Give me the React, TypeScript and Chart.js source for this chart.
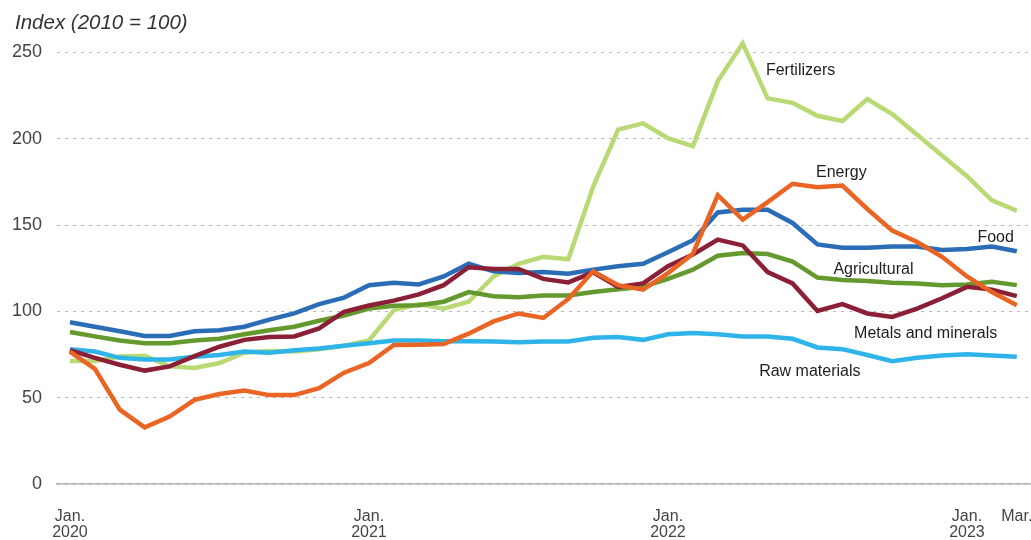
import React, { useEffect, useRef } from "react";
import { Chart, registerables } from "chart.js";

Chart.register(...registerables);

// Monthly, Jan 2020 .. Mar 2023 (39 months)
const monthIndex: number[] = Array.from({ length: 39 }, (_, i) => i);

const food = [93.7, 91.1, 88.5, 85.7, 85.7, 88.5, 89.1, 91.1, 95.2, 98.8, 104.2, 108.0, 115.2, 116.6, 115.6, 120.2, 127.6, 123.2, 122.2, 122.8, 121.8, 124.2, 126.2, 127.6, 134.2, 141.2, 157.3, 158.9, 158.9, 151.2, 138.8, 136.8, 136.8, 137.6, 137.6, 135.6, 136.2, 137.6, 134.8];
const agricultural = [88.1, 85.5, 83.1, 81.5, 81.5, 83.1, 84.1, 86.7, 89.1, 91.1, 94.6, 97.6, 101.6, 103.2, 103.6, 105.6, 111.2, 108.8, 108.2, 109.2, 109.2, 111.2, 112.8, 114.2, 118.8, 124.2, 132.2, 133.8, 133.2, 128.8, 119.6, 118.2, 117.6, 116.6, 116.2, 115.2, 115.6, 117.2, 115.2];
const metals = [77.5, 73.1, 69.1, 65.7, 68.1, 74.1, 79.5, 83.5, 85.1, 85.5, 90.1, 99.8, 103.4, 106.2, 109.8, 115.2, 125.6, 124.6, 124.6, 118.8, 116.8, 122.6, 114.2, 116.2, 126.2, 133.0, 141.6, 138.2, 122.8, 116.2, 100.2, 104.2, 98.8, 96.8, 101.6, 107.6, 114.2, 112.6, 108.8];
const rawMaterials = [78.1, 76.7, 73.1, 72.1, 72.1, 73.7, 74.7, 76.7, 76.1, 77.5, 78.5, 80.1, 81.5, 83.1, 83.1, 82.7, 82.7, 82.5, 82.1, 82.5, 82.5, 84.7, 85.1, 83.5, 86.7, 87.5, 86.7, 85.5, 85.5, 84.1, 79.1, 78.1, 74.7, 71.1, 73.1, 74.5, 75.1, 74.5, 73.7];
const fertilizers = [71.2, 71.2, 73.8, 74.3, 68.2, 67.2, 70.1, 76.1, 77.1, 76.7, 78.1, 80.1, 83.1, 100.7, 104.2, 101.6, 105.6, 120.2, 127.6, 131.6, 130.2, 172.3, 205.3, 208.9, 200.3, 195.7, 233.4, 255.3, 223.4, 220.8, 213.3, 210.3, 223.0, 214.3, 202.3, 190.3, 178.3, 164.3, 158.3];
const energy = [76.7, 66.7, 43.1, 32.8, 39.1, 48.7, 52.1, 54.1, 51.5, 51.5, 55.5, 64.5, 70.1, 80.5, 80.7, 81.1, 87.1, 94.2, 98.8, 96.2, 107.2, 123.2, 115.2, 112.6, 122.2, 133.4, 167.3, 153.2, 163.3, 173.9, 171.9, 172.9, 159.3, 146.8, 140.2, 131.6, 120.2, 111.2, 103.6];

const xTickValues = [0, 12, 24, 36, 38];
const xTickLabels: string[][] = [["Jan.", "2020"], ["Jan.", "2021"], ["Jan.", "2022"], ["Jan.", "2023"], ["Mar.", ""]];
const yTickValues = [0, 50, 100, 150, 200, 250];

const seriesNames = ["Energy", "Metals and minerals", "Food", "Raw materials", "Agricultural", "Fertilizers"];
const seriesData = [energy, metals, food, rawMaterials, agricultural, fertilizers];
const seriesColors = ["#ea6424", "#8a1f35", "#2a6db6", "#2fb4e9", "#64992e", "#b9d975"];

// Inline series labels: (month index, index value) anchor, left aligned
const labelTexts = ["Fertilizers", "Energy", "Food", "Agricultural", "Metals and minerals", "Raw materials"];
const labelMonth = [27.93, 29.94, 36.42, 30.64, 31.47, 27.66];
const labelValue = [239.3, 180.5, 143.0, 124.4, 86.9, 65.3];

const titleText = "Index (2010 = 100)";

const textPlugin = {
  id: "textPlugin",
  afterDatasetsDraw(chart: any) {
    const { ctx, scales } = chart;
    ctx.save();
    ctx.fillStyle = "#1e1e1e";
    ctx.font = "16px 'Liberation Sans', Arial, sans-serif";
    ctx.textAlign = "left";
    ctx.textBaseline = "middle";
    labelTexts.forEach((t, i) => {
      ctx.fillText(t, scales.x.getPixelForValue(labelMonth[i]), scales.y.getPixelForValue(labelValue[i]));
    });
    ctx.fillStyle = "#333";
    ctx.font = "italic 20.5px 'Liberation Sans', Arial, sans-serif";
    ctx.fillText(titleText, 15, 23.5);
    ctx.restore();
  },
};

export default function App() {
  const ref = useRef<HTMLCanvasElement | null>(null);
  useEffect(() => {
    if (!ref.current) return;
    const chart = new Chart(ref.current, {
      type: "line",
      data: {
        labels: monthIndex,
        datasets: seriesNames.map((name, i) => ({
          label: name,
          data: seriesData[i].map((v, j) => ({ x: monthIndex[j], y: v })),
          borderColor: seriesColors[i],
          backgroundColor: seriesColors[i],
          borderWidth: 4.5,
          pointRadius: 0,
          tension: 0,
          fill: false,
          order: i + 1,
          borderJoinStyle: "miter" as const,
        })),
      },
      options: {
        animation: false,
        responsive: true,
        maintainAspectRatio: false,
        layout: { padding: { top: 30, left: 0, right: 0, bottom: 0 } },
        plugins: { legend: { display: false }, tooltip: { enabled: false }, title: { display: false } },
        scales: {
          x: {
            type: "linear",
            min: -0.52,
            max: 38.57,
            afterBuildTicks: (scale: any) => {
              scale.ticks = xTickValues.map((v) => ({ value: v }));
            },
            afterFit: (scale: any) => {
              scale.height = 56;
              scale.paddingLeft = 0;
              scale.paddingRight = 0;
            },
            ticks: {
              autoSkip: false,
              maxRotation: 0,
              padding: 25,
              color: "#444",
              font: { family: "'Liberation Sans', Arial, sans-serif", size: 16, lineHeight: 1.0 },
              callback: (v: any) => {
                const k = xTickValues.indexOf(Number(v));
                return k >= 0 ? xTickLabels[k] : "";
              },
            },
            grid: { display: false, drawTicks: false },
            border: { display: true, color: "#b3b3b3", width: 1.5 },
          },
          y: {
            min: 0,
            max: 263,
            afterBuildTicks: (scale: any) => {
              scale.ticks = yTickValues.map((v) => ({ value: v }));
            },
            afterFit: (scale: any) => {
              scale.width = 57;
              scale.paddingTop = 0;
              scale.paddingBottom = 0;
            },
            ticks: {
              padding: 15,
              color: "#444",
              font: { family: "'Liberation Sans', Arial, sans-serif", size: 18 },
            },
            grid: { color: "#b8b8b8", lineWidth: 1, drawTicks: false },
            border: { display: false, dash: [3, 5] },
          },
        },
      },
      plugins: [textPlugin],
    } as any);
    return () => chart.destroy();
  }, []);
  return (
    <div style={{ position: "absolute", left: 0, top: 0, width: 1031, height: 540, background: "#fff" }}>
      <canvas ref={ref} />
    </div>
  );
}
